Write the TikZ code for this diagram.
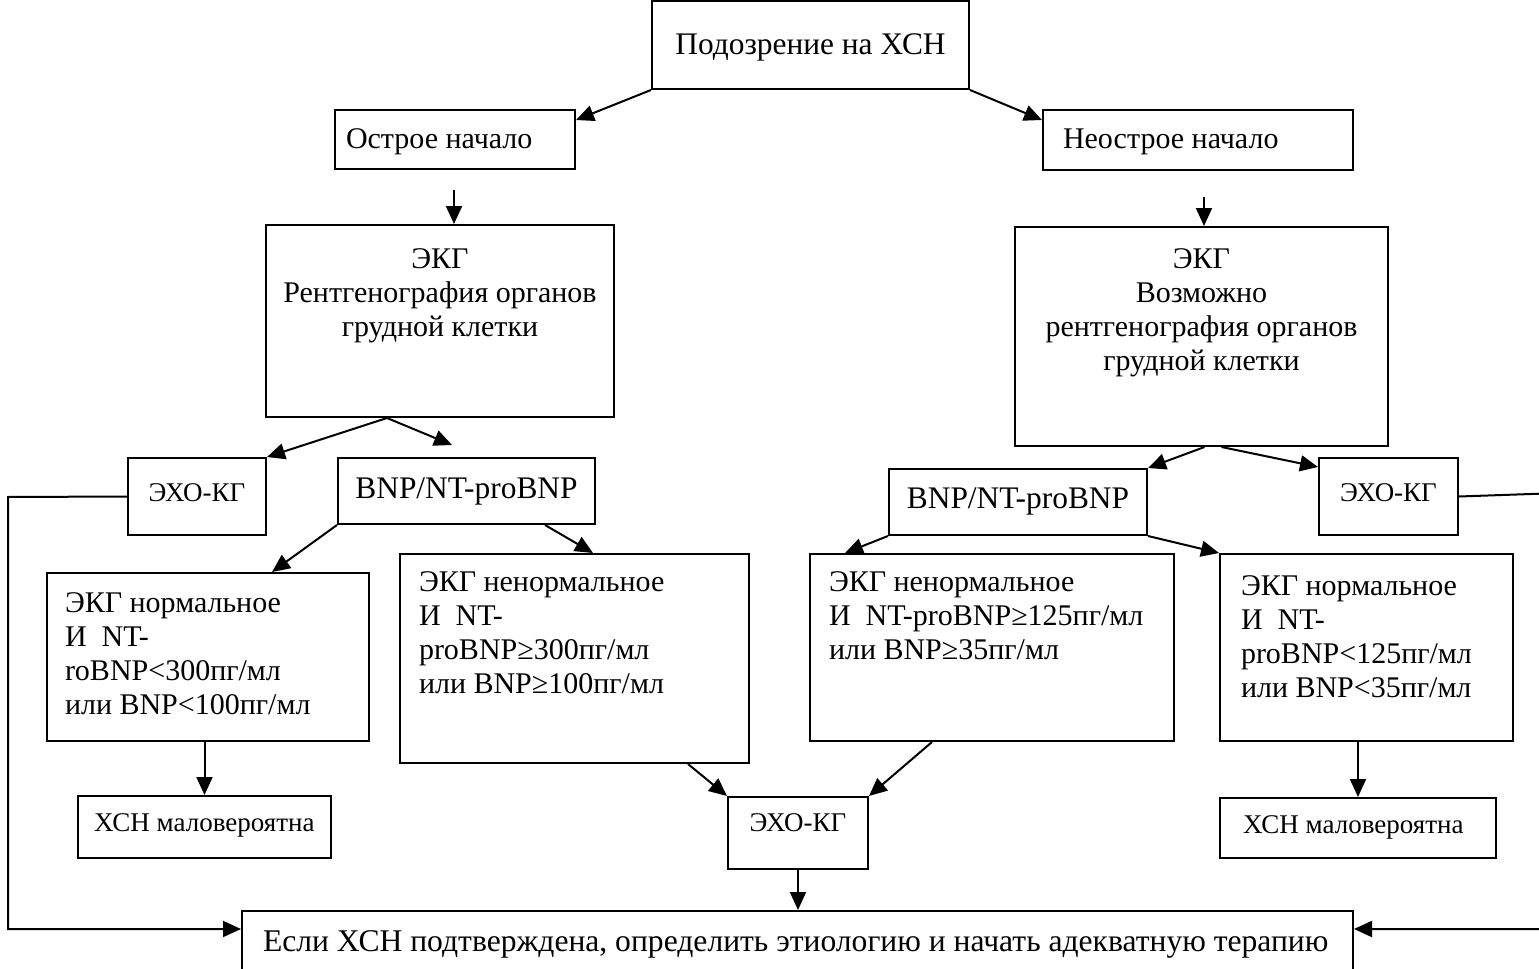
\documentclass[tikz,border=0pt]{standalone}
\usepackage{fontspec}
\setmainfont{Liberation Serif}
\usetikzlibrary{arrows.meta,calc}
\newlength{\pxu}\setlength{\pxu}{0.5pt}
\newcommand{\ctext}[4]{\parbox[t][#2\pxu][t]{#1\pxu}{\vspace*{#3\pxu}\centering #4}}
\newcommand{\ltext}[5]{\parbox[t][#2\pxu][t]{#1\pxu}{\vspace*{#3\pxu}\raggedright\leftskip=#4\pxu\relax #5}}
\begin{document}
\begin{tikzpicture}[x=0.5pt, y=-0.5pt, line width=1pt, >={Triangle[length=9pt,width=8pt]},
  box/.style={draw, anchor=north west, inner sep=0pt, font=\fontsize{15}{17}\selectfont},
  small/.style={font=\fontsize{13.5}{15}\selectfont},
  wide/.style={font=\fontsize{15.7}{17}\selectfont}]
\useasboundingbox (0,0) rectangle (1539,969);
\node[box,wide] (top) at (651,0) {\ctext{317}{88}{33}{Подозрение на ХСН}};
\node[box] (ostr) at (334,109) {\ltext{240}{59}{19}{11}{Острое начало}};
\node[box] (neostr) at (1042,109) {\ltext{310}{60}{19}{20}{Неострое начало}};
\node[box] (ekgL) at (265,224) {\ctext{348}{192}{24}{ЭКГ\\Рентгенография органов\\грудной клетки}};
\node[box] (ekgR) at (1014,226) {\ctext{373}{219}{22}{ЭКГ\\Возможно\\рентгенография органов\\грудной клетки}};
\node[box,small] (echoL) at (127,457) {\ctext{138}{77}{26}{ЭХО-КГ}};
\node[box,wide] (bnpL) at (337,457) {\ctext{257}{66}{20}{BNP/NT-proBNP}};
\node[box,wide] (bnpR) at (888,468) {\ctext{258}{66}{19}{BNP/NT-proBNP}};
\node[box,small] (echoR) at (1318,457) {\ctext{139}{77}{26}{ЭХО-КГ}};
\node[box] (normL) at (46,572) {\ltext{322}{168}{20}{18}{ЭКГ нормальное\\И\ \ NT-\\roBNP<300пг/мл\\или BNP<100пг/мл}};
\node[box] (abnL) at (399,553) {\ltext{349}{209}{18}{19}{ЭКГ ненормальное\\И\ \ NT-\\proBNP≥300пг/мл\\или BNP≥100пг/мл}};
\node[box] (abnR) at (809,553) {\ltext{364}{187}{18}{19}{ЭКГ ненормальное\\И\ \ NT-proBNP≥125пг/мл\\или BNP≥35пг/мл}};
\node[box] (normR) at (1219,553) {\ltext{293}{187}{22}{21}{ЭКГ нормальное\\И\ \ NT-\\proBNP<125пг/мл\\или BNP<35пг/мл}};
\node[box,small] (unlL) at (77,795) {\ltext{253}{62}{18}{16}{ХСН маловероятна}};
\node[box,small] (echoB) at (727,796) {\ctext{140}{72}{17}{ЭХО-КГ}};
\node[box,small] (unlR) at (1219,797) {\ltext{276}{60}{18}{23}{ХСН маловероятна}};
\node[box] (res) at (241,910) {\ltext{1111}{80}{20}{21}{\fontsize{15.8}{17}\selectfont Если ХСН подтверждена, определить этиологию и начать адекватную терапию}};
\coordinate (d1) at (454,190);
\coordinate (d2) at (1204,197);
\coordinate (b1) at (452,445);
\coordinate (lt) at (8,497);
\coordinate (lb) at (8,929);
\coordinate (rt) at (1560,493);
\coordinate (rb) at (1560,929);
\draw[->] (top.south west) to ($(ostr.north east)+(0,11)$);
\draw[->] (top.south east) to ($(neostr.north west)+(0,11)$);
\draw[->] (d1) to (d1 |- ekgL.north);
\draw[->] (d2) to (d2 |- ekgR.north);
\draw[->] ($(ekgL.south)+(-53,0)$) to (echoL.north east);
\draw[->] ($(ekgL.south)+(-53,0)$) to (b1);
\draw[->] ($(ekgR.south)+(3,0)$) to (bnpR.north east);
\draw[->] ($(ekgR.south)+(20,0)$) to ($(echoR.north west)+(0,10)$);
\draw[->] (bnpL.south west) to ($(normL.north east)+(-98,0)$);
\draw[->] ($(bnpL.south east)+(-51,0)$) to ($(abnL.north west)+(194,0)$);
\draw[->] (bnpR.south west) to ($(abnR.north west)+(36,0)$);
\draw[->] (bnpR.south east) to (normR.north west);
\draw[->] (unlL.north |- normL.south) to (unlL.north);
\draw[->] (unlR.north |- normR.south) to (unlR.north);
\draw[->] ($(abnL.south west)+(289,0)$) to (echoB.north west);
\draw[->] ($(abnR.south west)+(123,0)$) to (echoB.north east);
\draw[->] (echoB.south) to (echoB.south |- res.north);
\draw[->] (echoL.west) -- (lt) -- (lb) -- (lb -| res.west);
\draw[->] (echoR.east) -- (rt) -- (rb) -- (rb -| res.east);
\end{tikzpicture}
\end{document}
